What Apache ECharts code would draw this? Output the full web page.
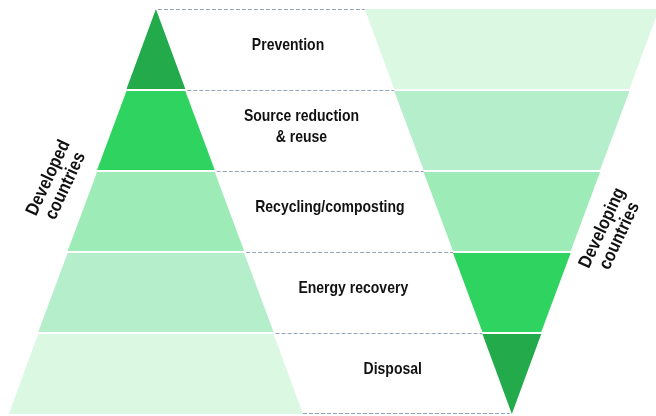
<!DOCTYPE html>
<html>
<head>
<meta charset="utf-8">
<script src="https://cdn.jsdelivr.net/npm/echarts@6/dist/echarts.min.js"></script>
<style>html,body{margin:0;padding:0;background:#fff}#c{width:656px;height:416px}</style>
</head>
<body>
<div id="c"></div>
<script>
// ---- data ----
const levels = ['Prevention', 'Source reduction\n& reuse', 'Recycling/composting', 'Energy recovery', 'Disposal'];
// relative width of the developed-countries pyramid at the bottom of each level (apex = 0 on top)
const developedWidth = [1, 2, 3, 4, 5];
// relative width of the developing-countries inverted pyramid at the top of each level (apex = 0 at bottom)
const developingWidth = [5, 4, 3, 2, 1];
const sideLabels = ['Developed\ncountries', 'Developing\ncountries'];

// ---- styles / layout ----
const developedColors = ['#22aa4b', '#2fd35f', '#9debb7', '#b4eecb', '#dbf8e3'];
const developingColors = ['#dbf8e3', '#b4eecb', '#9debb7', '#2fd35f', '#22aa4b'];
const rightCenter = 6.05;
const labelDx = [13, -3, -4, -10, 0];
const labelDy = -4;
const dashColor = '#93a3b5';
const fam = '"Liberation Sans", Arial, sans-serif';
const textFont = 'bold 14px ' + fam;
const sideFont = 'bold 16px ' + fam;

const n = levels.length;
const chart = echarts.init(document.getElementById('c'), null, { renderer: 'canvas' });

function renderItem(params, api) {
  const i = params.dataIndex;
  const topL = i === 0 ? 0 : developedWidth[i - 1];
  const botL = developedWidth[i];
  const topR = developingWidth[i];
  const botR = i + 1 < n ? developingWidth[i + 1] : 0;
  const yT = i, yB = i + 1;
  const p = (x, y) => api.coord([x, y]);
  const it = i === 0 ? 0 : 1;
  const ib = i === n - 1 ? 0 : 1;
  const sh = (pt, d) => [pt[0], pt[1] + d];
  const children = [];
  children.push({
    type: 'polygon',
    shape: { points: [sh(p(-topL / 2, yT), it), sh(p(topL / 2, yT), it), sh(p(botL / 2, yB), -ib), sh(p(-botL / 2, yB), -ib)] },
    style: { fill: developedColors[i] }
  });
  children.push({
    type: 'polygon',
    shape: { points: [sh(p(rightCenter - topR / 2, yT), it), sh(p(rightCenter + topR / 2, yT), it), sh(p(rightCenter + botR / 2, yB), -ib), sh(p(rightCenter - botR / 2, yB), -ib)] },
    style: { fill: developingColors[i] }
  });
  const a = p(topL / 2, yT), b = p(rightCenter - topR / 2, yT);
  children.push({
    type: 'line', shape: { x1: a[0] + 2, y1: a[1] + 0.5, x2: b[0], y2: b[1] + 0.5 },
    style: { stroke: dashColor, lineWidth: 1, lineDash: [4, 2] }
  });
  if (i === n - 1) {
    const c = p(botL / 2, yB), d = p(rightCenter - botR / 2, yB);
    children.push({
      type: 'line', shape: { x1: c[0], y1: c[1] - 0.5, x2: d[0] - 2, y2: d[1] - 0.5 },
      style: { stroke: dashColor, lineWidth: 1, lineDash: [4, 2] }
    });
  }
  const ym = i + 0.5;
  const lm = p((topL + botL) / 4, ym);
  const rm = p(rightCenter - (topR + botR) / 4, ym);
  children.push({
    type: 'text',
    x: (lm[0] + rm[0]) / 2 + labelDx[i],
    y: lm[1] + labelDy,
    scaleY: 1.2,
    style: { text: levels[i], font: textFont, fill: '#111', align: 'center', verticalAlign: 'middle', lineHeight: 17.5 }
  });
  return { type: 'group', children };
}

chart.setOption({
  animation: false,
  grid: { left: 0, right: 0, top: 9, bottom: 2 },
  xAxis: { type: 'value', min: -2.65, max: 8.5, show: false },
  yAxis: { type: 'value', min: 0, max: 5, inverse: true, show: false },
  series: [{
    type: 'custom',
    renderItem,
    clip: false,
    encode: { x: 0, y: 1 },
    data: levels.map((_, i) => [i, i])
  }],
  graphic: [
    { type: 'text', x: 57, y: 182, rotation: 65 * Math.PI / 180, scaleY: 1.15,
      style: { text: sideLabels[0], font: sideFont, fill: '#111', align: 'center', verticalAlign: 'middle', lineHeight: 16.5 } },
    { type: 'text', x: 611, y: 232, rotation: 65 * Math.PI / 180, scaleY: 1.15,
      style: { text: sideLabels[1], font: sideFont, fill: '#111', align: 'center', verticalAlign: 'middle', lineHeight: 16.5 } }
  ]
});
</script>
</body>
</html>
